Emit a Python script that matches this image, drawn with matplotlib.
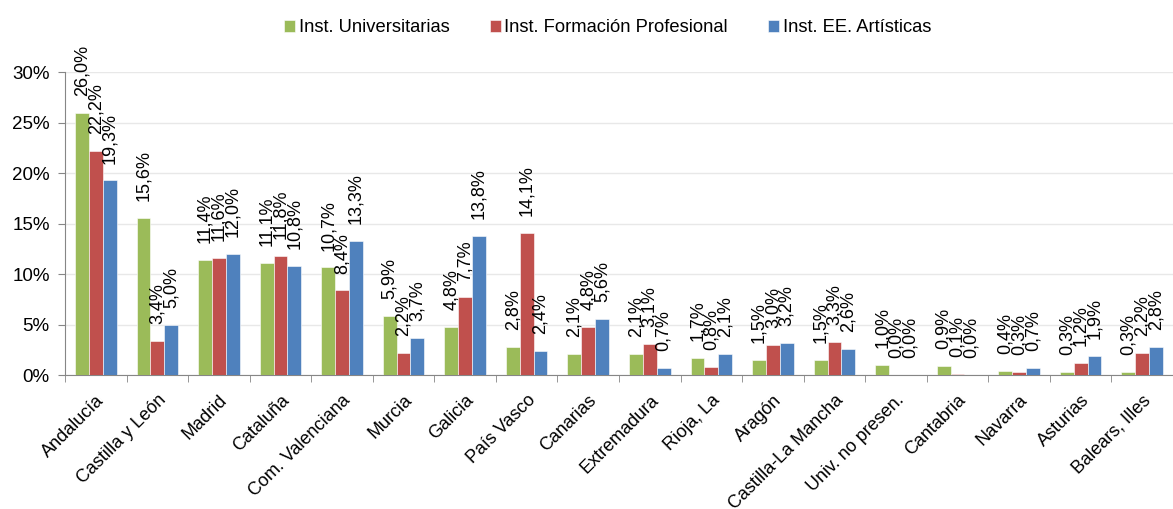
import numpy as np
import matplotlib.pyplot as plt

plt.rcParams['font.family'] = ['Liberation Sans', 'DejaVu Sans']

regiones = ['Andalucía', 'Castilla y León', 'Madrid', 'Cataluña', 'Com. Valenciana',
            'Murcia', 'Galicia', 'País Vasco', 'Canarias', 'Extremadura', 'Rioja, La',
            'Aragón', 'Castilla-La Mancha', 'Univ. no presen.', 'Cantabria', 'Navarra',
            'Asturias', 'Balears, Illes']

universitarias = [26.0, 15.6, 11.4, 11.1, 10.7, 5.9, 4.8, 2.8, 2.1, 2.1, 1.7,
                  1.5, 1.5, 1.0, 0.9, 0.4, 0.3, 0.3]
formacion_prof = [22.2, 3.4, 11.6, 11.8, 8.4, 2.2, 7.7, 14.1, 4.8, 3.1, 0.8,
                  3.0, 3.3, 0.0, 0.1, 0.3, 1.2, 2.2]
artisticas = [19.3, 5.0, 12.0, 10.8, 13.3, 3.7, 13.8, 2.4, 5.6, 0.7, 2.1,
              3.2, 2.6, 0.0, 0.0, 0.7, 1.9, 2.8]

series = [('Inst. Universitarias', universitarias, '#9BBB59'),
          ('Inst. Formación Profesional', formacion_prof, '#C0504D'),
          ('Inst. EE. Artísticas', artisticas, '#4F81BD')]

ind = np.arange(len(regiones))
width = 0.225

fig = plt.figure(figsize=(11.73, 5.09), dpi=100)
ax = fig.add_axes([0.0554, 0.263, 0.9446, 0.5947])

for k, (name, vals, col) in enumerate(series):
    xs = ind + (k - 1) * width
    ax.bar(xs, vals, width, color=col, label=name, edgecolor='white', linewidth=0.4, zorder=3)
    for x, v in zip(xs, vals):
        ax.annotate(('%.1f%%' % v).replace('.', ','), (x, v), xytext=(0, 12),
                    textcoords='offset points', rotation=90, ha='center', va='bottom',
                    fontsize=13, annotation_clip=False)

ax.set_xlim(-0.5, 17.31)
ax.set_ylim(0, 30)
ax.set_yticks(np.arange(0, 31, 5))
ax.set_yticklabels(['%d%%' % t for t in range(0, 31, 5)], fontsize=13.5)
ax.yaxis.grid(True, color='#E8E8E8', linewidth=1, zorder=0)

ax.set_xticks(ind)
ax.set_xticklabels(regiones, rotation=45, ha='right', rotation_mode='anchor', fontsize=13)
ax.tick_params(axis='x', length=0, pad=12)
ax.set_xticks(np.arange(-0.5, 18, 1), minor=True)
ax.tick_params(axis='x', which='minor', length=5, color='#868686')
ax.tick_params(axis='y', length=5, color='#868686', pad=6)

for s in ['top', 'right']:
    ax.spines[s].set_visible(False)
for s in ['left', 'bottom']:
    ax.spines[s].set_color('#868686')

fig.legend(loc='center', bbox_to_anchor=(0.518, 0.945), ncol=3, frameon=False,
           fontsize=13.2, handlelength=0.6, handleheight=0.6, handletextpad=0.2,
           columnspacing=2.2)

fig.savefig('out.png', dpi=100)
